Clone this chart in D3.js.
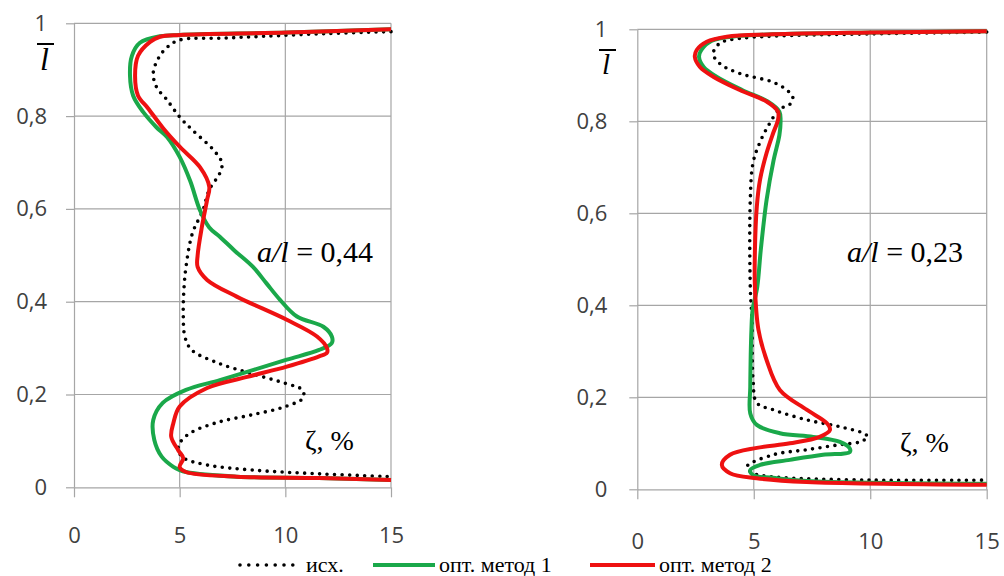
<!DOCTYPE html>
<html>
<head>
<meta charset="utf-8">
<script src="https://cdn.jsdelivr.net/npm/d3@7"></script>
<style>
  html, body { margin: 0; padding: 0; background: #fff; }
  svg { display: block; }
</style>
</head>
<body>
<svg id="chart" width="1004" height="576"></svg>
<script>
// ---------- DATA ----------
const xTicks = [0, 5, 10, 15];
const yTicks = [0, 0.2, 0.4, 0.6, 0.8, 1];
const seriesNames = ["исх.", "опт. метод 1", "опт. метод 2"];
const panelLabels = ["a/l = 0,44", "a/l = 0,23"];

// left panel (a/l = 0,44): [ζ %, l̄]
const left_isx = [[15,0.982],[12,0.978],[9,0.972],[7,0.968],[5.0,0.964],[4.4,0.948],[4.0,0.925],[3.75,0.893],[3.9,0.863],[4.4,0.835],[5.0,0.798],[5.6,0.77],[6.6,0.727],[7.0,0.699],[6.9,0.677],[6.4,0.641],[6.1,0.597],[5.6,0.547],[5.3,0.475],[5.2,0.425],[5.17,0.375],[5.25,0.324],[5.57,0.296],[6.8,0.268],[8.4,0.245],[10.0,0.224],[10.8,0.21],[10.85,0.193],[10.0,0.174],[8.4,0.156],[6.8,0.14],[5.5,0.117],[5.0,0.095],[4.93,0.08],[5.2,0.063],[6.3,0.048],[8.5,0.037],[11.6,0.029],[15,0.023]];
const left_opt1 = [[15,0.987],[10.1,0.98],[5.0,0.975],[4.07,0.972],[3.12,0.958],[2.74,0.93],[2.65,0.887],[2.8,0.844],[3.27,0.809],[3.9,0.776],[4.4,0.755],[5.0,0.712],[5.5,0.66],[5.96,0.597],[6.4,0.56],[6.9,0.54],[7.6,0.51],[8.47,0.475],[9.1,0.44],[9.75,0.404],[10.55,0.368],[11.8,0.346],[12.2,0.325],[12.2,0.311],[11.6,0.296],[10.07,0.275],[8.5,0.253],[6.9,0.231],[5.3,0.21],[4.2,0.182],[3.75,0.145],[3.8,0.102],[4.15,0.066],[4.7,0.044],[5.0,0.037],[5.3,0.033],[7.7,0.023],[11.6,0.02],[15,0.016]];
const left_opt2 = [[15,0.987],[10.1,0.98],[5.0,0.975],[4.07,0.971],[3.6,0.96],[3.03,0.93],[2.89,0.887],[3.03,0.844],[3.5,0.817],[4.2,0.775],[5.0,0.734],[5.96,0.69],[6.4,0.648],[6.3,0.62],[6.05,0.561],[5.85,0.5],[5.85,0.475],[6.3,0.447],[7.7,0.411],[10.07,0.361],[11.5,0.325],[11.97,0.3],[11.97,0.29],[11.6,0.282],[10.07,0.26],[8.2,0.238],[6.3,0.214],[5.0,0.174],[4.7,0.138],[4.6,0.109],[4.93,0.08],[5.17,0.063],[5.0,0.044],[5.3,0.033],[7.7,0.023],[11.6,0.02],[15,0.016]];

// right panel (a/l = 0,23)
const right_isx = [[15,0.994],[10,0.99],[5.8,0.985],[4.4,0.98],[3.55,0.97],[3.26,0.947],[3.55,0.925],[4.4,0.904],[5.83,0.885],[6.47,0.866],[6.68,0.851],[6.55,0.837],[6.1,0.826],[5.7,0.797],[5.27,0.755],[4.97,0.71],[4.85,0.629],[4.85,0.44],[4.92,0.368],[4.97,0.238],[5.13,0.188],[5.83,0.173],[7.27,0.151],[8.7,0.136],[9.7,0.122],[9.9,0.114],[9.55,0.103],[8.7,0.097],[7.27,0.086],[5.83,0.075],[4.7,0.049],[4.97,0.035],[5.83,0.027],[10.1,0.02],[15,0.02]];
const right_opt1 = [[15,0.996],[10,0.993],[5.8,0.989],[4.2,0.985],[3.2,0.975],[2.75,0.955],[2.65,0.94],[2.85,0.918],[3.4,0.897],[4.5,0.868],[5.6,0.843],[6.1,0.821],[6.15,0.8],[6.1,0.77],[5.85,0.715],[5.55,0.629],[5.3,0.52],[5.15,0.44],[4.95,0.39],[4.9,0.347],[4.85,0.223],[4.85,0.165],[5.13,0.14],[6.12,0.122],[7.55,0.114],[8.7,0.103],[9.12,0.089],[9.12,0.081],[7.97,0.075],[6.55,0.064],[5.27,0.053],[4.85,0.042],[4.97,0.031],[5.83,0.025],[7.27,0.018],[15,0.012]];
const right_opt2 = [[15,0.996],[10,0.993],[5.8,0.989],[3.84,0.984],[2.98,0.973],[2.55,0.955],[2.47,0.94],[2.69,0.918],[3.26,0.897],[4.4,0.868],[5.55,0.843],[6.04,0.821],[6.04,0.803],[5.83,0.774],[5.55,0.731],[5.27,0.673],[5.13,0.614],[5.05,0.52],[5.05,0.44],[5.2,0.347],[5.55,0.281],[6.12,0.216],[7.27,0.173],[8.13,0.144],[8.27,0.129],[7.83,0.114],[6.55,0.1],[5.13,0.09],[3.98,0.075],[3.63,0.053],[3.98,0.035],[5.13,0.024],[7.27,0.016],[15,0.01]];

// ---------- DRAWING ----------
const svg = d3.select("#chart");
const GRID = "#a6a6a6";
const TICKTXT = "#404040";
const COLORS = { isx: "#000000", opt1: "#1aa84a", opt2: "#ee1111" };

const panels = [
  { x0: 74, x1: 391, y0: 487.3, y1: 23.3, labelDY: 48, labelDX: 27,
    series: [left_isx, left_opt1, left_opt2], label: panelLabels[0],
    labelPos: [257, 262], zetaPos: [305, 450], lbarPos: [37, 44], lfont: 32 },
  { x0: 637.3, x1: 986.7, y0: 489.3, y1: 29.3, labelDY: 52, labelDX: 30,
    series: [right_isx, right_opt1, right_opt2], label: panelLabels[1],
    labelPos: [847, 262], zetaPos: [900, 452], lbarPos: [599, 50], lfont: 29 }
];

const fmt = v => (v === 0 || v === 1) ? String(v) : d3.format(".1f")(v).replace(".", ",");

panels.forEach(p => {
  const x = d3.scaleLinear().domain([0, 15]).range([p.x0, p.x1]);
  const y = d3.scaleLinear().domain([0, 1]).range([p.y0, p.y1]);
  const g = svg.append("g");

  // gridlines
  g.append("g").selectAll("line.h").data(yTicks.filter(d => d > 0)).join("line")
    .attr("x1", x(0)).attr("x2", x(15))
    .attr("y1", d => y(d)).attr("y2", d => y(d))
    .attr("stroke", GRID).attr("stroke-width", 1.2);
  g.append("g").selectAll("line.v").data(xTicks.filter(d => d > 0)).join("line")
    .attr("x1", d => x(d)).attr("x2", d => x(d))
    .attr("y1", y(0)).attr("y2", y(1))
    .attr("stroke", GRID).attr("stroke-width", 1.2);

  // y axis
  const ya = g.append("g").attr("transform", `translate(${x(0)},0)`)
    .call(d3.axisLeft(y).tickValues(yTicks).tickFormat(fmt).tickSize(8).tickSizeOuter(0));
  ya.select(".domain").attr("stroke", GRID).attr("stroke-width", 1.2);
  ya.selectAll(".tick line").attr("stroke", GRID).attr("stroke-width", 1.2);
  ya.selectAll(".tick text").attr("x", -p.labelDX).attr("fill", TICKTXT)
    .style("font-family", "'Open Sans', sans-serif").style("font-size", "22px");

  // x axis
  const xa = g.append("g").attr("transform", `translate(0,${y(0)})`)
    .call(d3.axisBottom(x).tickValues(xTicks).tickFormat(d3.format("d")).tickSize(10).tickSizeOuter(0));
  xa.select(".domain").attr("stroke", GRID).attr("stroke-width", 1.2);
  xa.selectAll(".tick line").attr("stroke", GRID).attr("stroke-width", 1.2);
  xa.selectAll(".tick text").attr("y", p.labelDY).attr("dy", "0.35em").attr("fill", TICKTXT)
    .style("font-family", "'Open Sans', sans-serif").style("font-size", "22px");

  const line = d3.line().x(d => x(d[0])).y(d => y(d[1])).curve(d3.curveCatmullRom.alpha(0.5));

  // series
  g.append("path").datum(p.series[0]).attr("d", line)
    .attr("fill", "none").attr("stroke", COLORS.isx).attr("stroke-width", 3.6)
    .attr("stroke-linecap", "round").attr("stroke-dasharray", "0 7.5");
  g.append("path").datum(p.series[1]).attr("d", line)
    .attr("fill", "none").attr("stroke", COLORS.opt1).attr("stroke-width", 4)
    .attr("stroke-linejoin", "round");
  g.append("path").datum(p.series[2]).attr("d", line)
    .attr("fill", "none").attr("stroke", COLORS.opt2).attr("stroke-width", 4)
    .attr("stroke-linejoin", "round");

  // panel label a/l = ...
  const parts = p.label.split(" = ");
  const lt = svg.append("text").attr("x", p.labelPos[0]).attr("y", p.labelPos[1])
    .style("font-family", "'Liberation Serif', 'Times New Roman', serif").style("font-size", "30px").attr("fill", "#000");
  lt.append("tspan").style("font-style", "italic").text(parts[0]);
  lt.append("tspan").text(" = " + parts[1]);

  // ζ, %
  svg.append("text").attr("x", p.zetaPos[0]).attr("y", p.zetaPos[1])
    .style("font-family", "'Liberation Serif', 'Times New Roman', serif").style("font-size", "28px")
    .attr("fill", "#000").text("ζ, %");

  // l̄ axis title
  const lx = p.lbarPos[0], ly = p.lbarPos[1];
  svg.append("line").attr("x1", lx).attr("x2", lx + 17).attr("y1", ly).attr("y2", ly)
    .attr("stroke", "#000").attr("stroke-width", 2);
  svg.append("text").attr("x", lx + 3).attr("y", ly + 3).attr("dy", "0.72em")
    .style("font-family", "'Liberation Serif', 'Times New Roman', serif").style("font-style", "italic")
    .style("font-size", p.lfont + "px").attr("fill", "#000").text("l");
});

// legend
const leg = svg.append("g");
const LY = 565;
const legItems = [
  { x1: 240, x2: 293, tx: 306, stroke: COLORS.isx, dash: true, name: seriesNames[0] },
  { x1: 373, x2: 435, tx: 439, stroke: COLORS.opt1, dash: false, name: seriesNames[1] },
  { x1: 590, x2: 655, tx: 659, stroke: COLORS.opt2, dash: false, name: seriesNames[2] }
];
legItems.forEach(it => {
  const l = leg.append("line").attr("x1", it.x1).attr("x2", it.x2).attr("y1", LY).attr("y2", LY)
    .attr("stroke", it.stroke);
  if (it.dash) l.attr("stroke-width", 3.6).attr("stroke-linecap", "round").attr("stroke-dasharray", "0 8.8");
  else l.attr("stroke-width", 4);
  leg.append("text").attr("x", it.tx).attr("y", LY).attr("dy", "0.33em")
    .style("font-family", "'Liberation Serif', 'Times New Roman', serif").style("font-size", "22px")
    .attr("fill", "#000").text(it.name);
});
</script>
</body>
</html>
